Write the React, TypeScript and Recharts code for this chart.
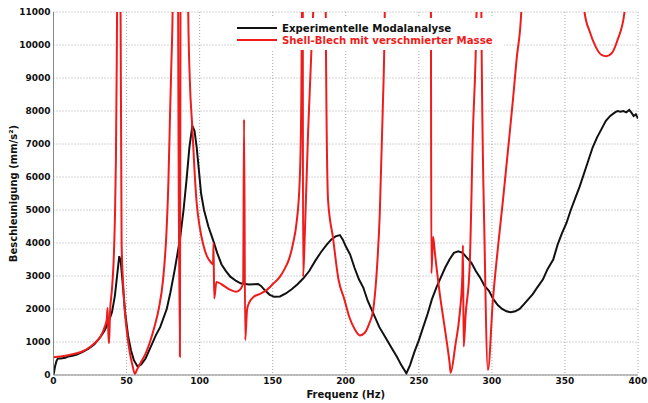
import { LineChart, Line, XAxis, YAxis, CartesianGrid, Legend } from "recharts";

// Experimentelle Modalanalyse (Hz / mm/s²)
const expHz = [
  0, 1, 2, 3, 5, 8, 10, 13, 16, 20, 24, 28, 32, 35, 38, 40, 42, 43.5, 45, 46,
  47.5, 49, 51, 53, 55, 57.5, 60, 63, 66, 70, 73, 77.5, 80, 83, 86.5, 89, 91, 93,
  95, 96.5, 98, 99.5, 101, 103, 106, 109.5, 112, 115, 118, 121, 125, 128, 131,
  134, 137, 140, 142, 145, 148, 151, 155, 159, 163, 167, 171, 175, 179, 183, 187,
  190, 193, 196, 198, 200, 203, 206, 209, 212, 215, 219, 223, 227, 231, 235, 238,
  241.5, 244, 247, 250, 253, 256, 259, 262, 265, 268, 271, 274, 277, 280, 283,
  286, 289, 292, 295, 298, 301, 304, 307, 310, 313, 316, 319, 322, 325, 328, 331,
  335, 338, 342, 345, 348, 351, 354, 357, 360, 363, 366, 369, 372, 375, 378, 381,
  384, 386, 388, 390, 392, 394, 395.5, 397, 398.5, 400,
];
const expAccel = [
  0, 250, 420, 500, 500, 520, 560, 580, 620, 700, 800, 930, 1150, 1350, 1650, 1900,
  2400, 3000, 3600, 3450, 2700, 1900, 1200, 750, 450, 260, 320, 500, 800, 1200,
  1450, 2000, 2500, 3200, 4100, 5000, 5900, 6900, 7550, 7400, 6900, 6200, 5500,
  5000, 4500, 4050, 3700, 3350, 3150, 2980, 2850, 2780, 2760, 2740, 2750, 2760,
  2700, 2550, 2430, 2370, 2380, 2470, 2600, 2750, 2930, 3150, 3450, 3720, 3950,
  4100, 4200, 4240, 4100, 3900, 3650, 3250, 2900, 2650, 2250, 1850, 1450, 1150,
  850, 550, 300, 50, 300, 700, 1050, 1450, 1850, 2300, 2650, 2950, 3250, 3500,
  3700, 3750, 3700, 3550, 3400, 3150, 2950, 2700, 2550, 2300, 2120, 2000, 1930,
  1900, 1930, 2000, 2150, 2300, 2450, 2650, 2900, 3200, 3500, 3950, 4300, 4600,
  5000, 5350, 5700, 6100, 6500, 6900, 7200, 7450, 7700, 7850, 7950, 8000, 7980,
  8000, 7960, 8030, 7950, 7850, 7900, 7770,
];

// Shell-Blech mit verschmierter Masse (values above 11000 run off the plot)
const simHz = [
  0, 5, 10, 15, 20, 25, 29, 32, 35, 36.5, 37, 37.6, 38, 38.7, 40, 41, 42, 42.7,
  43.2, 43.5, 44.2, 45.2, 45.9, 46.6, 47.5, 48.9, 50.5, 52.3, 54, 55.7, 57, 60, 63,
  66, 69, 72, 75, 77.4, 78.6, 79.7, 80.7, 81.5, 82.5, 84.5, 85.3, 86.5, 86.9, 88,
  91.5, 92.2, 93.3, 95, 96.5, 98, 100, 102.5, 105, 108, 109.2, 109.5, 110, 111.5,
  115, 120, 125, 128, 129.8, 130.4, 131.2, 132.5, 134, 137, 141, 146, 150, 155, 158,
  161.7, 164, 166.3, 168.5, 169.5, 170, 170.3, 170.6, 170.8, 172, 174.2, 176.5,
  177.7, 179, 185, 186.3, 187.9, 191.3, 195, 199, 202.5, 206, 209.6, 213, 216,
  218.7, 221, 223.3, 225.3, 226.7, 228, 257.5, 258.3, 258.6, 259.8, 261, 264.3,
  268, 271.1, 271.8, 275, 278, 279.8, 280.2, 280.7, 282, 284.8, 287, 289.5, 290.5,
  292, 292.8, 295, 297.3, 300.7, 304, 307.6, 311, 314.4, 317, 320.1, 322, 361,
  363.4, 367, 371, 375, 378.3, 382, 386, 390.8, 393, 400,
];
const simAccel = [
  540, 560, 600, 650, 720, 850, 1000, 1150, 1450, 1700, 2030, 1200, 960, 1900,
  2600, 3300, 4700, 6500, 9000, 11000, 30000, 30000, 11000, 4000, 2900, 1900, 1200,
  660, 300, 30, 150, 400, 650, 1000, 1450, 2000, 2900, 4400, 5800, 7800, 9500,
  11000, 30000, 30000, 11000, 555, 11000, 30000, 30000, 11000, 8930, 7500, 6200,
  5200, 4500, 3950, 3600, 3400, 3350, 4000, 2320, 2820, 2750, 2600, 2520, 2600,
  2800, 7750, 1060, 2000, 2200, 2370, 2450, 2580, 2750, 2980, 3200, 3580, 4000,
  4600, 5900, 8000, 11000, 30000, 11000, 2975, 4290, 7320, 9840, 11000, 30000,
  30000, 11000, 5300, 4150, 2900, 2300, 1750, 1400, 1200, 1280, 1550, 1950, 3000,
  4900, 8000, 11000, 30000, 30000, 11000, 3080, 4190, 3700, 2470, 1350, 350, 70,
  900, 1870, 3000, 3935, 860, 1800, 3280, 7320, 11000, 30000, 30000, 11000, 4000,
  150, 2270, 3800, 5300, 6800, 8330, 9600, 11000, 30000, 30000, 11000, 10400, 9950,
  9700, 9660, 9750, 10150, 11000, 13000, 30000,
];

const xTicks = [0, 50, 100, 150, 200, 250, 300, 350, 400];
const yTicks = [0, 1000, 2000, 3000, 4000, 5000, 6000, 7000, 8000, 9000, 10000, 11000];

const seriesNames = ["Experimentelle Modalanalyse", "Shell-Blech mit verschmierter Masse"];
const seriesColors = ["#111111", "#ee1c1c"];

const expData = expHz.map((hz, i) => ({ hz, v: expAccel[i] }));
const simData = simHz.map((hz, i) => ({ hz, v: simAccel[i] }));

const font = "'DejaVu Sans', Verdana, sans-serif";

function LegendBox() {
  return (
    <div style={{ background: "#fff", width: 268, height: 32, position: "relative" }}>
      {seriesNames.map((name, i) => (
        <div
          key={name}
          style={{
            position: "absolute",
            left: 0,
            top: 4 + i * 12,
            height: 12,
            display: "flex",
            alignItems: "center",
            whiteSpace: "nowrap",
          }}
        >
          <span style={{ display: "inline-block", width: 40, height: 2, background: seriesColors[i], marginLeft: 1 }} />
          <span
            style={{
              marginLeft: 5,
              fontFamily: font,
              fontWeight: "bold",
              fontSize: 10.2,
              color: i === 0 ? "#111" : seriesColors[1],
            }}
          >
            {name}
          </span>
        </div>
      ))}
    </div>
  );
}

export default function App() {
  const tickStyle = { fontFamily: font, fontWeight: "bold", fontSize: 9, fill: "#111" };
  return (
    <div style={{ position: "absolute", left: 0, top: 0, width: 648, height: 403, background: "#fff" }}>
      <LineChart width={648} height={403} margin={{ top: 12, right: 10, bottom: 0, left: 0 }}>
        <CartesianGrid stroke="#a8a8a8" strokeDasharray="1 2" />
        <XAxis
          type="number"
          dataKey="hz"
          domain={[0, 400]}
          ticks={xTicks}
          allowDataOverflow
          height={28}
          tickLine={false}
          tickSize={0}
          tickMargin={3}
          stroke="#888"
          tick={tickStyle}
          label={{
            value: "Frequenz (Hz)",
            position: "insideBottom",
            offset: 5,
            style: { fontFamily: font, fontWeight: "bold", fontSize: 10, fill: "#111" },
          }}
        />
        <YAxis
          type="number"
          domain={[0, 11000]}
          ticks={yTicks}
          allowDataOverflow
          width={53.5}
          tickLine={false}
          tickSize={0}
          tickMargin={3}
          stroke="#888"
          tick={tickStyle}
          label={{
            value: "Beschleunigung (mm/s²)",
            angle: -90,
            position: "insideLeft",
            offset: 13,
            style: { textAnchor: "middle", fontFamily: font, fontWeight: "bold", fontSize: 10, fill: "#111" },
          }}
        />
        <Legend
          layout="vertical"
          align="center"
          verticalAlign="middle"
          content={() => <LegendBox />}
          wrapperStyle={{ top: 18, left: 236, width: 268, height: 32 }}
        />
        <Line
          data={expData}
          dataKey="v"
          name={seriesNames[0]}
          type="linear"
          stroke={seriesColors[0]}
          strokeWidth={2}
          dot={false}
          isAnimationActive={false}
        />
        <Line
          data={simData}
          dataKey="v"
          name={seriesNames[1]}
          type="monotone"
          stroke={seriesColors[1]}
          strokeWidth={2}
          dot={false}
          isAnimationActive={false}
        />
      </LineChart>
    </div>
  );
}
